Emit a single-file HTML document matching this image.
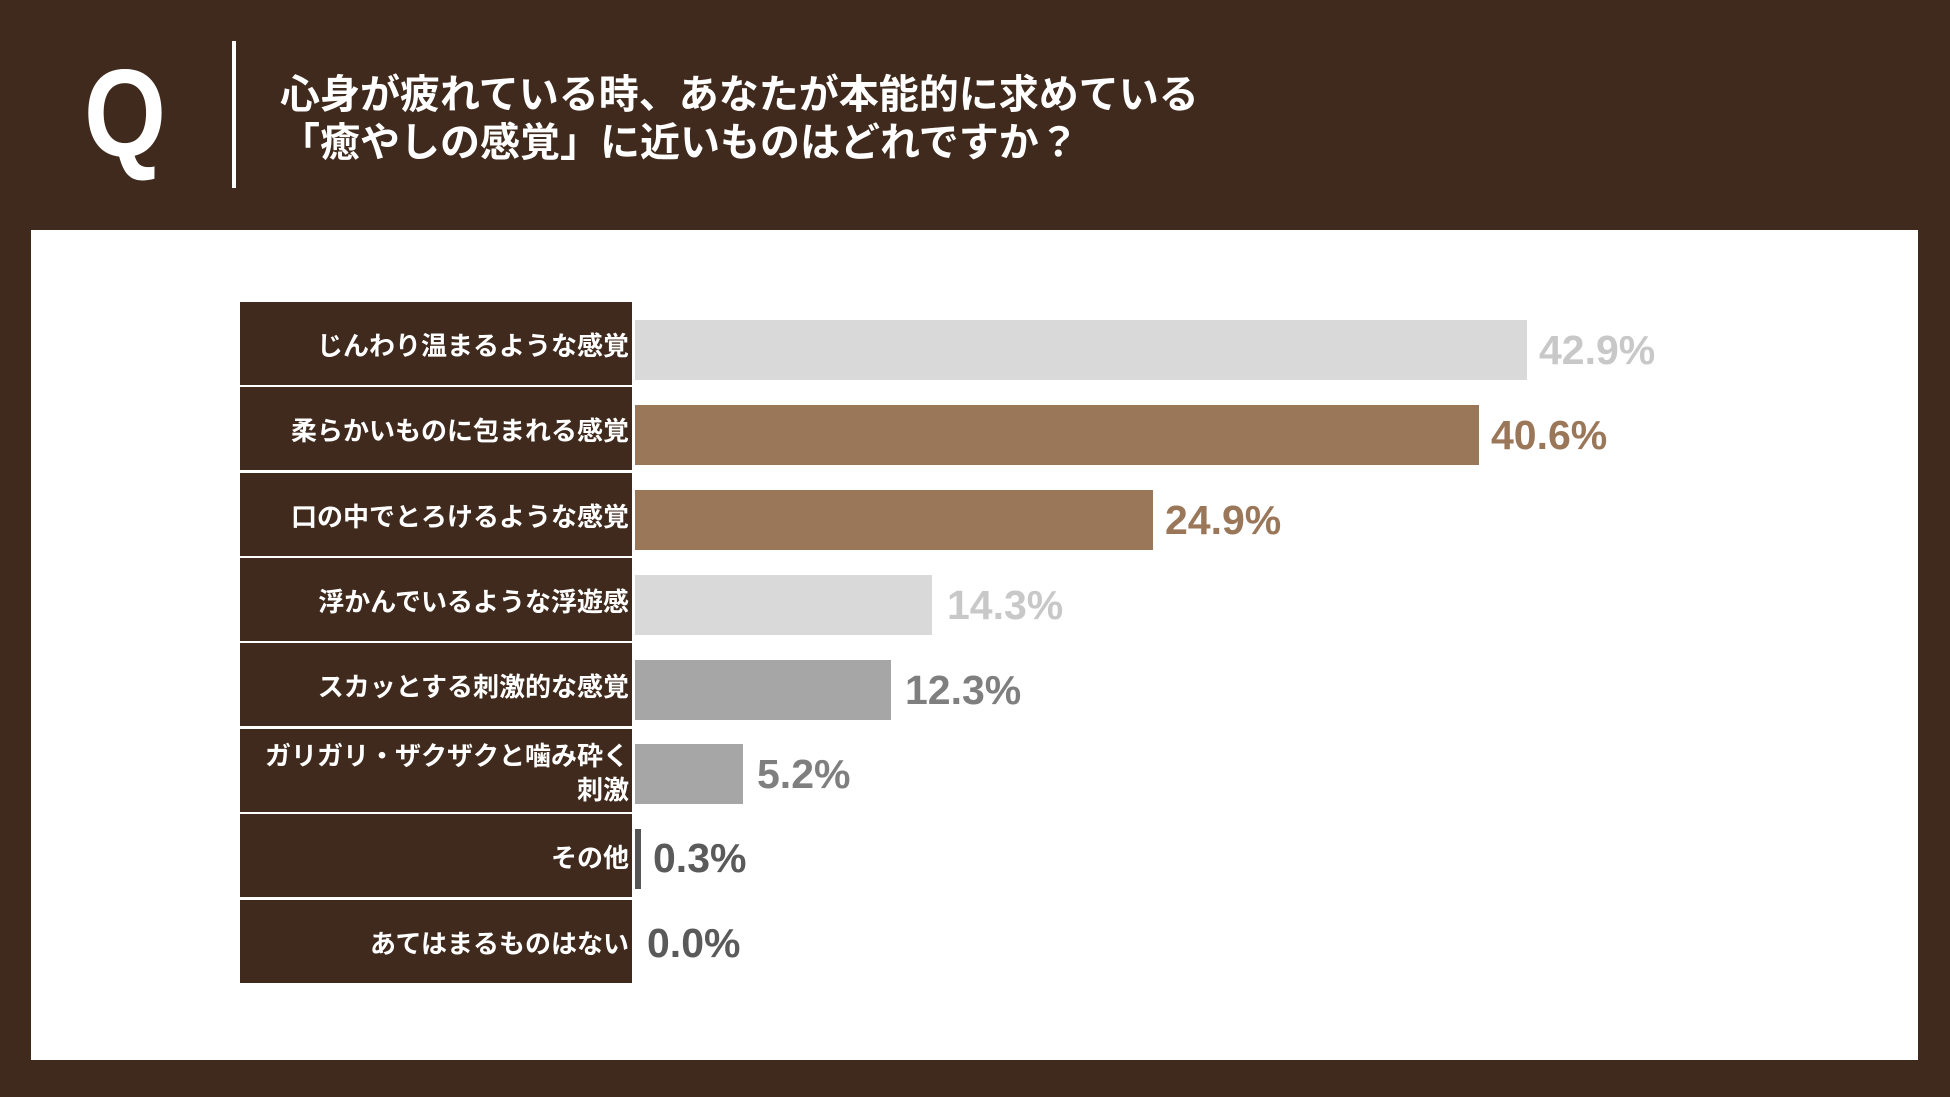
<!DOCTYPE html>
<html><head><meta charset="utf-8"><style>
body{margin:0;width:1950px;height:1097px;background:#3f2a1d;position:relative;overflow:hidden;font-family:"Liberation Sans","Noto Sans CJK JP",sans-serif;}
.q{position:absolute;left:84px;top:52px;font-size:124px;font-weight:bold;color:#fff;line-height:1;font-family:"Liberation Sans",sans-serif;transform:scaleX(0.85);transform-origin:left top;}
.vl{position:absolute;left:232px;top:41px;width:4px;height:147px;background:#fff;}
.t{position:absolute;left:280px;color:#fff;font-size:40px;font-weight:bold;white-space:nowrap;line-height:1;}
.panel{position:absolute;left:31px;top:230px;width:1887px;height:830px;background:#fff;}
.lab{position:absolute;left:240px;width:392px;height:83px;background:#3f2a1d;color:#fff;font-size:26px;font-weight:bold;display:flex;align-items:center;justify-content:flex-end;text-align:right;padding-right:3px;padding-top:6px;box-sizing:border-box;line-height:1.3;}
.bar{position:absolute;left:635px;height:60px;}
.v{position:absolute;font-size:41px;font-weight:bold;line-height:60px;}
</style></head><body>
<div class="q">Q</div>
<div class="vl"></div>
<div class="t" style="top:75px">心身が疲れている時、あなたが本能的に求めている</div>
<div class="t" style="top:123px">「癒やしの感覚」に近いものはどれですか？</div>
<div class="panel"></div>

<div class="lab" style="top:302px">じんわり温まるような感覚</div>
<div class="lab" style="top:387px">柔らかいものに包まれる感覚</div>
<div class="lab" style="top:473px">口の中でとろけるような感覚</div>
<div class="lab" style="top:558px">浮かんでいるような浮遊感</div>
<div class="lab" style="top:643px">スカッとする刺激的な感覚</div>
<div class="lab" style="top:729px">ガリガリ・ザクザクと噛み砕く<br>刺激</div>
<div class="lab" style="top:814px">その他</div>
<div class="lab" style="top:900px">あてはまるものはない</div>

<div class="bar" style="top:320px;width:892px;background:#d9d9d9"></div>
<div class="v" style="top:320px;left:1539px;color:#c8c8c8">42.9%</div>
<div class="bar" style="top:405px;width:844px;background:#9b775a"></div>
<div class="v" style="top:405px;left:1491px;color:#9b775a">40.6%</div>
<div class="bar" style="top:490px;width:518px;background:#9b775a"></div>
<div class="v" style="top:490px;left:1165px;color:#9b775a">24.9%</div>
<div class="bar" style="top:575px;width:297px;background:#d9d9d9"></div>
<div class="v" style="top:575px;left:947px;color:#c8c8c8">14.3%</div>
<div class="bar" style="top:660px;width:256px;background:#a6a6a6"></div>
<div class="v" style="top:660px;left:905px;color:#7f7f7f">12.3%</div>
<div class="bar" style="top:744px;width:108px;background:#a6a6a6"></div>
<div class="v" style="top:744px;left:757px;color:#7f7f7f">5.2%</div>
<div class="bar" style="top:829px;width:6px;background:#555"></div>
<div class="v" style="top:828px;left:653px;color:#5a5a5a">0.3%</div>
<div class="v" style="top:913px;left:647px;color:#5a5a5a">0.0%</div>
</body></html>
